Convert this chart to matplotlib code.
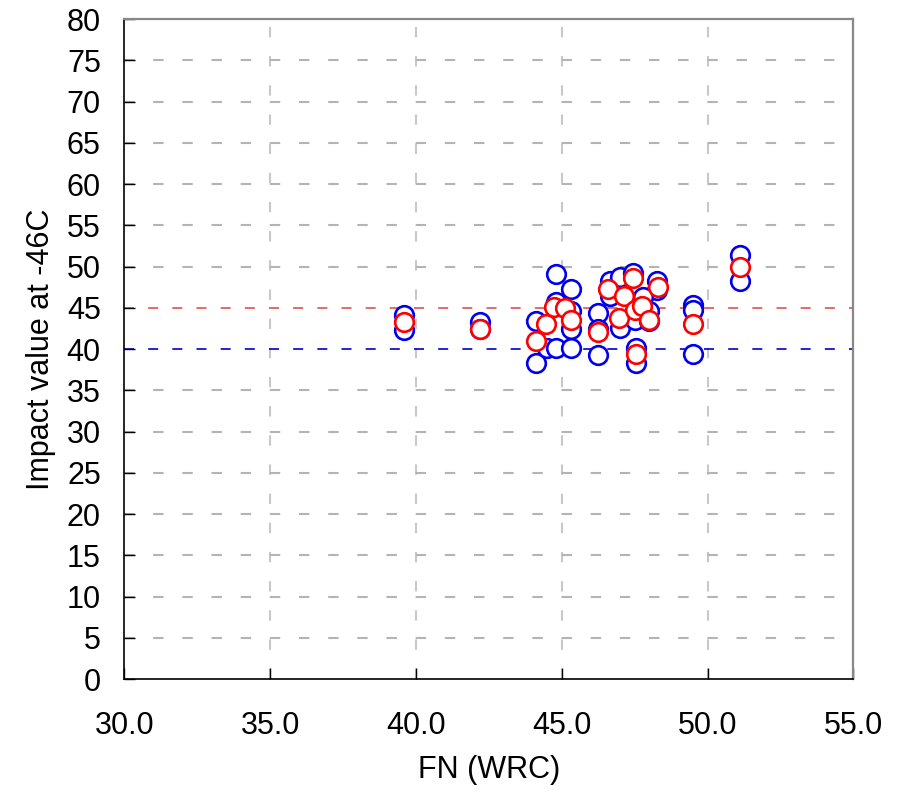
import matplotlib
matplotlib.use("Agg")
import matplotlib.pyplot as plt

plt.rcParams['font.family'] = ['Liberation Sans', 'DejaVu Sans']

# individual impact values (blue) and averages (red) against ferrite number
fn_ind = [39.6, 39.6, 42.2, 42.2,
          44.1, 44.1, 44.5, 44.8, 44.8, 45.3, 45.3, 45.3, 45.3, 44.8,
          46.25, 46.25, 46.25, 46.65, 46.65, 47.0, 47.45, 47.0,
          47.5, 47.55, 47.55, 48.25, 48.25, 48.0, 48.0, 47.8,
          49.5, 49.5, 49.5, 51.1, 51.1]
cv_ind = [44.2, 42.3, 43.3, 42.5,
          43.4, 38.3, 40.2, 49.1, 40.2, 47.3, 40.1, 44.6, 42.4, 45.7,
          44.4, 42.4, 39.3, 48.3, 46.4, 48.8, 49.2, 42.6,
          43.6, 40.2, 38.3, 48.3, 47.2, 44.6, 43.4, 46.3,
          45.3, 44.7, 39.4, 51.4, 48.3]

fn_avg = [39.6, 42.2, 44.1, 44.45, 44.75, 45.1, 45.3, 46.25, 46.6, 46.95,
          47.15, 47.45, 47.5, 47.75, 48.0, 48.3, 47.55, 49.5, 51.1]
cv_avg = [43.3, 42.4, 41.0, 43.1, 45.1, 45.0, 43.6, 42.1, 47.3, 43.8,
          46.5, 48.6, 44.8, 45.2, 43.5, 47.6, 39.4, 43.1, 50.0]

fig = plt.figure(figsize=(9.02, 8.0), dpi=100)
ax = fig.add_axes([0.138, 0.151, 0.808, 0.825])

ax.set_xlim(30, 55)
ax.set_ylim(0, 80)
ax.set_xticks([30, 35, 40, 45, 50, 55])
ax.set_xticklabels(['30.0', '35.0', '40.0', '45.0', '50.0', '55.0'])
ax.set_yticks(range(0, 81, 5))

# gray dashed grid
for x in [35, 40, 45, 50]:
    ax.axvline(x, color='#c8c8c8', lw=1.5, dashes=(5, 9), zorder=0)
for y in range(5, 80, 5):
    if y in (40, 45):
        continue
    ax.axhline(y, color='#b4b4b4', lw=1.5, dashes=(5, 9), zorder=0)

# requirement lines
ax.axhline(45, color='#e05050', lw=1.2, dashes=(6, 8.5), zorder=1)
ax.axhline(40, color='#0000cc', lw=1.2, dashes=(6, 8.5), zorder=1)

ax.plot(fn_ind, cv_ind, 'o', ms=13.4, mfc='white', mec='#0000ee', mew=1.9,
        ls='none', zorder=3, clip_on=False)
ax.plot(fn_avg, cv_avg, 'o', ms=13.4, mfc='white', mec='#ff0000', mew=1.9,
        ls='none', zorder=4, clip_on=False)

for s in ['left', 'bottom']:
    ax.spines[s].set_color('black')
    ax.spines[s].set_linewidth(1.2)
for s in ['top', 'right']:
    ax.spines[s].set_color('#888888')
    ax.spines[s].set_linewidth(1.6)

ax.tick_params(direction='in', length=8, width=1, labelsize=22)
ax.tick_params(axis='y', pad=17)
ax.tick_params(axis='x', pad=23)

ax.set_xlabel('FN (WRC)', fontsize=22, labelpad=10)
ax.set_ylabel('Impact value at -46C', fontsize=22, labelpad=8)

fig.savefig('out.png', dpi=100)
